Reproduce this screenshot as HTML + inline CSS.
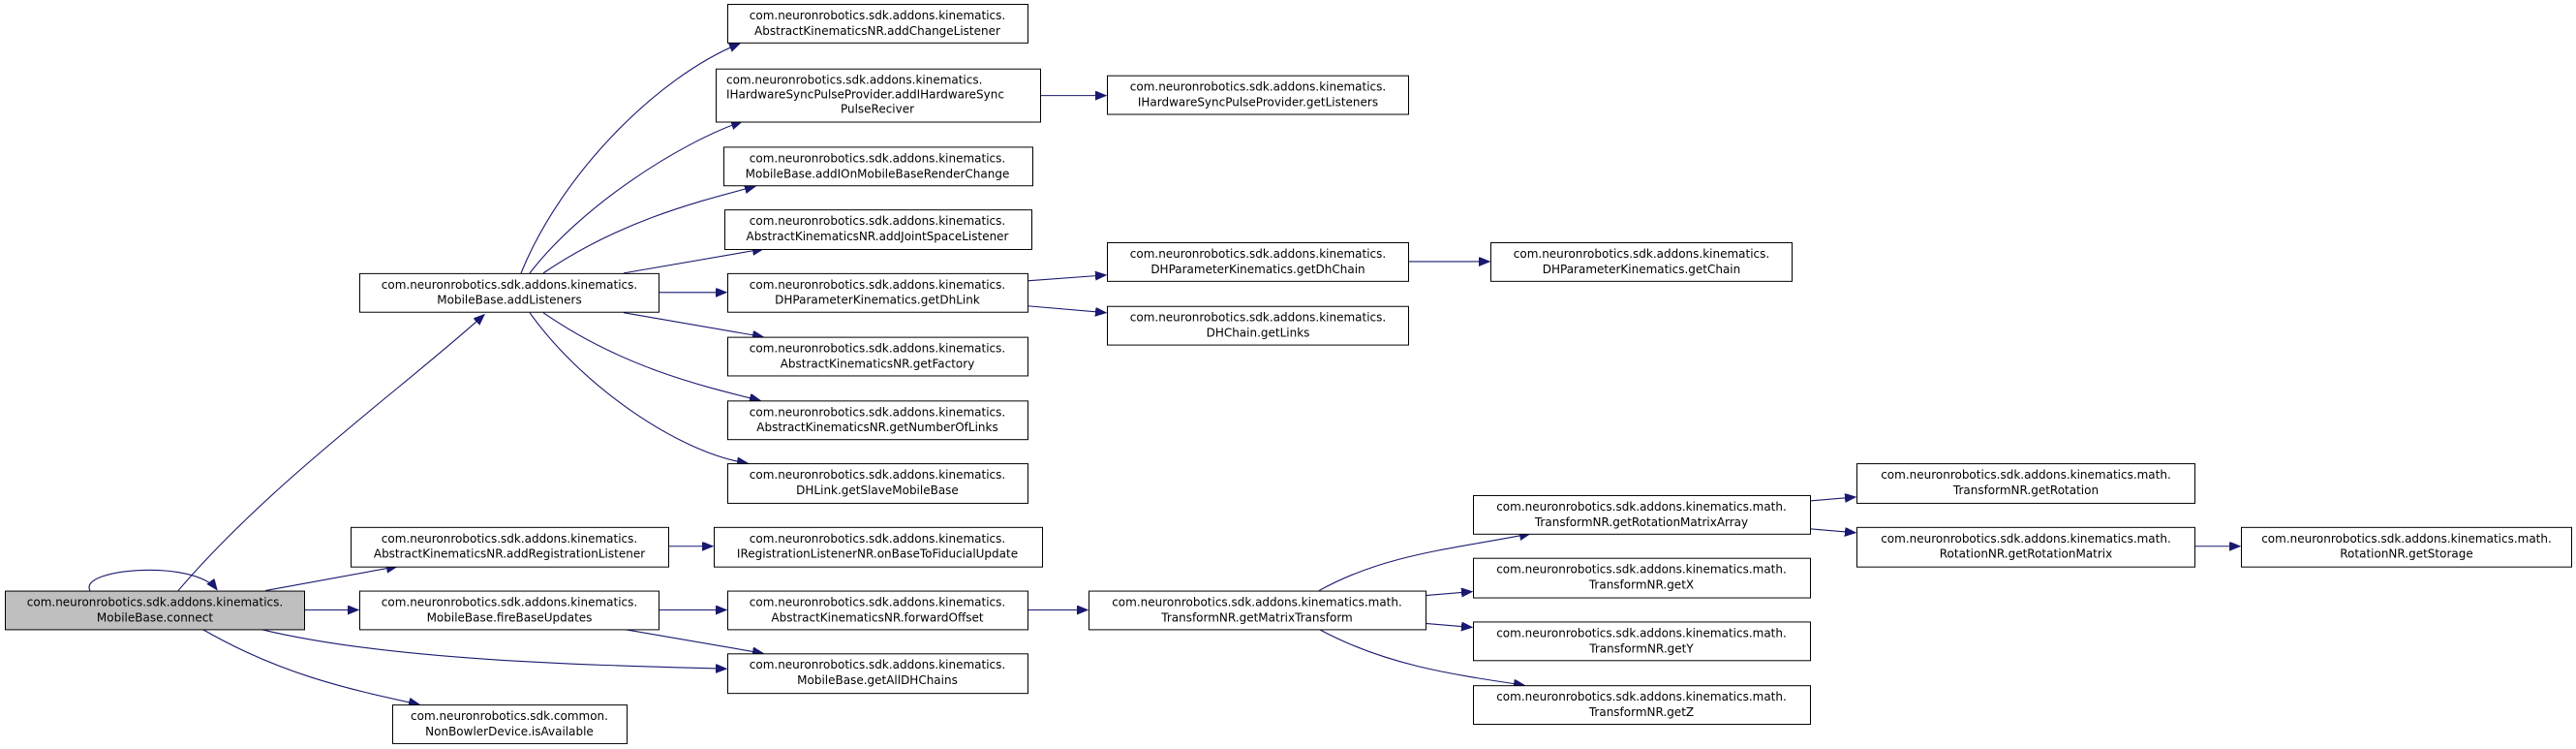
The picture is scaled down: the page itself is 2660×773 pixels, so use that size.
<!DOCTYPE html>
<html><head><meta charset="utf-8"><style>
html,body{margin:0;padding:0;background:#fff;}
svg{display:block;}
text{font-family:"DejaVu Sans","Liberation Sans",sans-serif;font-size:12px;fill:#000;text-anchor:middle;}
.b{fill:#fff;stroke:#000;stroke-width:1;}
.e{fill:none;stroke:#191970;stroke-width:1.1;}
</style></head><body>
<svg width="2660" height="773" viewBox="0 0 2660 773" xmlns="http://www.w3.org/2000/svg">
<defs>
<marker id="a" markerUnits="userSpaceOnUse" markerWidth="12" markerHeight="10" refX="11" refY="4.5" orient="auto">
<path d="M0,0 L11,4.5 L0,9 z" fill="#191970" stroke="#191970"/>
</marker>
</defs>
<g transform="matrix(1 0 0 0.996 0 -0.98)">
<path class="e" marker-end="url(#a)" d="M93,613 C80,590 200,580 224,612"/>
<path class="e" marker-end="url(#a)" d="M184,613 C280,500 420,400 500,327"/>
<path class="e" marker-end="url(#a)" d="M274,613 L410,588"/>
<path class="e" marker-end="url(#a)" d="M314,633 L370,633"/>
<path class="e" marker-end="url(#a)" d="M269,653 C400,685 600,690 750,694"/>
<path class="e" marker-end="url(#a)" d="M209,653 C290,700 360,715 433,731"/>
<path class="e" marker-end="url(#a)" d="M538,284 C580,180 680,80 764,46"/>
<path class="e" marker-end="url(#a)" d="M547,284 C600,215 700,150 766,127"/>
<path class="e" marker-end="url(#a)" d="M561,284 C640,230 720,210 780,194"/>
<path class="e" marker-end="url(#a)" d="M644,284 L788,259"/>
<path class="e" marker-end="url(#a)" d="M680,304 L750,304"/>
<path class="e" marker-end="url(#a)" d="M644,325 L788,350"/>
<path class="e" marker-end="url(#a)" d="M561,325 C640,380 720,400 785,416"/>
<path class="e" marker-end="url(#a)" d="M547,325 C600,400 700,470 772,481"/>
<path class="e" marker-end="url(#a)" d="M1074,100 L1142,100"/>
<path class="e" marker-end="url(#a)" d="M1061,292 L1142,286"/>
<path class="e" marker-end="url(#a)" d="M1061,318 L1142,325"/>
<path class="e" marker-end="url(#a)" d="M1454,272 L1538,272"/>
<path class="e" marker-end="url(#a)" d="M690,567 L736,567"/>
<path class="e" marker-end="url(#a)" d="M680,633 L750,633"/>
<path class="e" marker-end="url(#a)" d="M644,653 L788,678"/>
<path class="e" marker-end="url(#a)" d="M1061,633 L1123,633"/>
<path class="e" marker-end="url(#a)" d="M1362,613 C1430,575 1500,570 1580,554"/>
<path class="e" marker-end="url(#a)" d="M1472,618 L1520,614"/>
<path class="e" marker-end="url(#a)" d="M1472,647 L1520,651"/>
<path class="e" marker-end="url(#a)" d="M1362,653 C1430,690 1500,700 1574,711"/>
<path class="e" marker-end="url(#a)" d="M1869,520 L1916,516"/>
<path class="e" marker-end="url(#a)" d="M1869,549 L1916,553"/>
<path class="e" marker-end="url(#a)" d="M2266,567 L2313,567"/>

<rect x="5.5" y="613.5" width="309" height="40" fill="#bfbfbf" stroke="#000"/>
<text x="160" y="629">com.neuronrobotics.sdk.addons.kinematics.</text><text x="160" y="645">MobileBase.connect</text>

<rect class="b" x="371.5" y="284.5" width="309" height="40"/>
<text x="526" y="300">com.neuronrobotics.sdk.addons.kinematics.</text><text x="526" y="316">MobileBase.addListeners</text>

<rect class="b" x="751.5" y="5.5" width="310" height="40"/>
<text x="906" y="21">com.neuronrobotics.sdk.addons.kinematics.</text><text x="906" y="37">AbstractKinematicsNR.addChangeListener</text>

<rect class="b" x="739.5" y="72.5" width="335" height="55"/>
<text x="750" y="88" style="text-anchor:start">com.neuronrobotics.sdk.addons.kinematics.</text><text x="750" y="103" style="text-anchor:start">IHardwareSyncPulseProvider.addIHardwareSync</text><text x="906" y="118">PulseReciver</text>

<rect class="b" x="747.5" y="153.5" width="319" height="40"/>
<text x="906" y="169">com.neuronrobotics.sdk.addons.kinematics.</text><text x="906" y="185">MobileBase.addIOnMobileBaseRenderChange</text>

<rect class="b" x="748.5" y="218.5" width="317" height="41"/>
<text x="906" y="234">com.neuronrobotics.sdk.addons.kinematics.</text><text x="906" y="250">AbstractKinematicsNR.addJointSpaceListener</text>

<rect class="b" x="751.5" y="284.5" width="310" height="40"/>
<text x="906" y="300">com.neuronrobotics.sdk.addons.kinematics.</text><text x="906" y="316">DHParameterKinematics.getDhLink</text>

<rect class="b" x="751.5" y="350.5" width="310" height="40"/>
<text x="906" y="366">com.neuronrobotics.sdk.addons.kinematics.</text><text x="906" y="382">AbstractKinematicsNR.getFactory</text>

<rect class="b" x="751.5" y="416.5" width="310" height="40"/>
<text x="906" y="432">com.neuronrobotics.sdk.addons.kinematics.</text><text x="906" y="448">AbstractKinematicsNR.getNumberOfLinks</text>

<rect class="b" x="751.5" y="481.5" width="310" height="41"/>
<text x="906" y="497">com.neuronrobotics.sdk.addons.kinematics.</text><text x="906" y="513">DHLink.getSlaveMobileBase</text>

<rect class="b" x="362.5" y="547.5" width="328" height="41"/>
<text x="526" y="563">com.neuronrobotics.sdk.addons.kinematics.</text><text x="526" y="579">AbstractKinematicsNR.addRegistrationListener</text>

<rect class="b" x="737.5" y="547.5" width="339" height="41"/>
<text x="906" y="563">com.neuronrobotics.sdk.addons.kinematics.</text><text x="906" y="579">IRegistrationListenerNR.onBaseToFiducialUpdate</text>

<rect class="b" x="371.5" y="613.5" width="309" height="40"/>
<text x="526" y="629">com.neuronrobotics.sdk.addons.kinematics.</text><text x="526" y="645">MobileBase.fireBaseUpdates</text>

<rect class="b" x="751.5" y="613.5" width="310" height="40"/>
<text x="906" y="629">com.neuronrobotics.sdk.addons.kinematics.</text><text x="906" y="645">AbstractKinematicsNR.forwardOffset</text>

<rect class="b" x="751.5" y="678.5" width="310" height="41"/>
<text x="906" y="694">com.neuronrobotics.sdk.addons.kinematics.</text><text x="906" y="710">MobileBase.getAllDHChains</text>

<rect class="b" x="405.5" y="731.5" width="242" height="40"/>
<text x="526" y="747">com.neuronrobotics.sdk.common.</text><text x="526" y="763">NonBowlerDevice.isAvailable</text>

<rect class="b" x="1143.5" y="79.5" width="311" height="40"/>
<text x="1299" y="95">com.neuronrobotics.sdk.addons.kinematics.</text><text x="1299" y="111">IHardwareSyncPulseProvider.getListeners</text>

<rect class="b" x="1143.5" y="252.5" width="311" height="40"/>
<text x="1299" y="268">com.neuronrobotics.sdk.addons.kinematics.</text><text x="1299" y="284">DHParameterKinematics.getDhChain</text>

<rect class="b" x="1539.5" y="252.5" width="311" height="40"/>
<text x="1695" y="268">com.neuronrobotics.sdk.addons.kinematics.</text><text x="1695" y="284">DHParameterKinematics.getChain</text>

<rect class="b" x="1143.5" y="318.5" width="311" height="40"/>
<text x="1299" y="334">com.neuronrobotics.sdk.addons.kinematics.</text><text x="1299" y="350">DHChain.getLinks</text>

<rect class="b" x="1124.5" y="613.5" width="348" height="40"/>
<text x="1298" y="629">com.neuronrobotics.sdk.addons.kinematics.math.</text><text x="1298" y="645">TransformNR.getMatrixTransform</text>

<rect class="b" x="1521.5" y="514.5" width="348" height="40"/>
<text x="1695" y="530">com.neuronrobotics.sdk.addons.kinematics.math.</text><text x="1695" y="546">TransformNR.getRotationMatrixArray</text>

<rect class="b" x="1521.5" y="579.5" width="348" height="41"/>
<text x="1695" y="595">com.neuronrobotics.sdk.addons.kinematics.math.</text><text x="1695" y="611">TransformNR.getX</text>

<rect class="b" x="1521.5" y="645.5" width="348" height="40"/>
<text x="1695" y="661">com.neuronrobotics.sdk.addons.kinematics.math.</text><text x="1695" y="677">TransformNR.getY</text>

<rect class="b" x="1521.5" y="711.5" width="348" height="40"/>
<text x="1695" y="727">com.neuronrobotics.sdk.addons.kinematics.math.</text><text x="1695" y="743">TransformNR.getZ</text>

<rect class="b" x="1917.5" y="481.5" width="349" height="41"/>
<text x="2092" y="497">com.neuronrobotics.sdk.addons.kinematics.math.</text><text x="2092" y="513">TransformNR.getRotation</text>

<rect class="b" x="1917.5" y="547.5" width="349" height="41"/>
<text x="2092" y="563">com.neuronrobotics.sdk.addons.kinematics.math.</text><text x="2092" y="579">RotationNR.getRotationMatrix</text>

<rect class="b" x="2314.5" y="547.5" width="341" height="41"/>
<text x="2485" y="563">com.neuronrobotics.sdk.addons.kinematics.math.</text><text x="2485" y="579">RotationNR.getStorage</text>
</g>
</svg>
</body></html>
